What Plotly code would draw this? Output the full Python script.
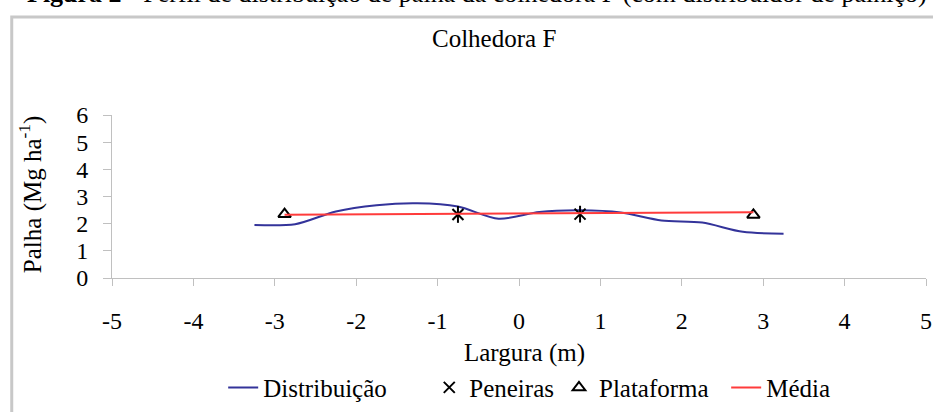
import plotly.graph_objects as go

# ---- data ----
dist_x = [-3.25, -2.75, -2.25, -1.75, -1.25, -0.75, -0.25, 0.25, 0.75, 1.25, 1.75, 2.25, 2.75, 3.25]
dist_y = [1.95, 1.98, 2.45, 2.68, 2.75, 2.63, 2.18, 2.43, 2.49, 2.41, 2.12, 2.04, 1.70, 1.63]

pen_x = [-0.75, 0.75]
pen_y = [2.34, 2.35]

plat_x = [-2.88, 2.88]
plat_y = [2.35, 2.32]

media_x = [-2.88, 2.88]
media_y = [2.33, 2.42]

x_ticks = [-5, -4, -3, -2, -1, 0, 1, 2, 3, 4, 5]
y_ticks = [0, 1, 2, 3, 4, 5, 6]

FONT = "Liberation Serif"
NB = "\u00a0"
W, H = 933, 412
L, R, T, B = 112, 1, 115, 129
PW, PH = W - L - R, H - T - B


def px(xp):
    return (xp - L) / PW


def py(yp):
    return (H - B - yp) / PH


fig = go.Figure()
fig.add_trace(go.Scatter(x=dist_x, y=dist_y, mode="lines", name="Distribuição" + NB * 6,
                         line=dict(color="#33339a", width=2, shape="spline", smoothing=0.8)))
fig.add_trace(go.Scatter(x=pen_x, y=pen_y, mode="markers", name="Peneiras", legendgroup="pen",
                         marker=dict(symbol="x-thin-open", size=11, color="black",
                                     line=dict(color="black", width=2))))
fig.add_trace(go.Scatter(x=pen_x, y=pen_y, mode="markers", name="Peneiras", legendgroup="pen",
                         showlegend=False,
                         marker=dict(symbol="line-ns-open", size=12, color="black",
                                     line=dict(color="black", width=2))))
fig.add_trace(go.Scatter(x=plat_x, y=plat_y, mode="markers", name="Plataforma" + NB * 2,
                         marker=dict(symbol="triangle-up-open", size=11, color="black",
                                     line=dict(color="black", width=2))))
fig.add_trace(go.Scatter(x=media_x, y=media_y, mode="lines", name="Média",
                         line=dict(color="#ff3b3b", width=2)))

axis_common = dict(showgrid=False, zeroline=False, showline=True, linecolor="#c0c0c0", linewidth=1,
                   ticks="outside", tickcolor="#c0c0c0", tickwidth=1,
                   tickfont=dict(family=FONT, size=24, color="black"))

fig.update_xaxes(range=[-5, 5], tickvals=x_ticks, ticktext=[str(v) for v in x_ticks],
                 ticklen=7, ticklabelstandoff=14, ticklabeloverflow="allow", **axis_common)
fig.update_yaxes(range=[0, 6], tickvals=y_ticks, ticktext=[str(v) for v in y_ticks],
                 ticklen=8, ticklabelstandoff=10, **axis_common)

annotations = [
    dict(text="<b>Figura 2</b> - Perfil de distribuição de palha da colhedora F (com distribuidor de palhiço)",
         x=px(24), y=py(7), xref="paper", yref="paper", xanchor="left", yanchor="bottom",
         showarrow=False, font=dict(family=FONT, size=26, color="black")),
    dict(text="Colhedora F", x=px(497), y=py(36), xref="paper", yref="paper",
         xanchor="center", yanchor="middle", showarrow=False,
         font=dict(family=FONT, size=25, color="black")),
    dict(text="Largura (m)", x=px(528), y=py(360), xref="paper", yref="paper",
         xanchor="center", yanchor="middle", showarrow=False,
         font=dict(family=FONT, size=25, color="black")),
    dict(text="Palha (Mg ha<sup>-1</sup>)", x=px(30), y=py(197), xref="paper", yref="paper",
         xanchor="center", yanchor="middle", textangle=-90, showarrow=False,
         font=dict(family=FONT, size=25, color="black")),
]

shapes = [
    dict(type="rect", xref="paper", yref="paper", x0=px(11), x1=px(960), y0=py(440), y1=py(14),
         line=dict(color="#c8c8c8", width=3), fillcolor="rgba(0,0,0,0)", layer="below"),
]

fig.update_layout(
    width=W, height=H,
    margin=dict(l=L, r=R, t=T, b=B, pad=0),
    paper_bgcolor="white", plot_bgcolor="white",
    showlegend=True,
    legend=dict(orientation="h", x=px(224), y=py(396), xanchor="left", yanchor="middle",
                font=dict(family=FONT, size=25, color="black"), itemwidth=30,
                bgcolor="rgba(0,0,0,0)", tracegroupgap=0),
    annotations=annotations,
    shapes=shapes,
    font=dict(family=FONT),
)

fig.write_html("out.html", config={"displayModeBar": False},
               post_script="document.body.style.margin='0';document.body.style.padding='0';")
